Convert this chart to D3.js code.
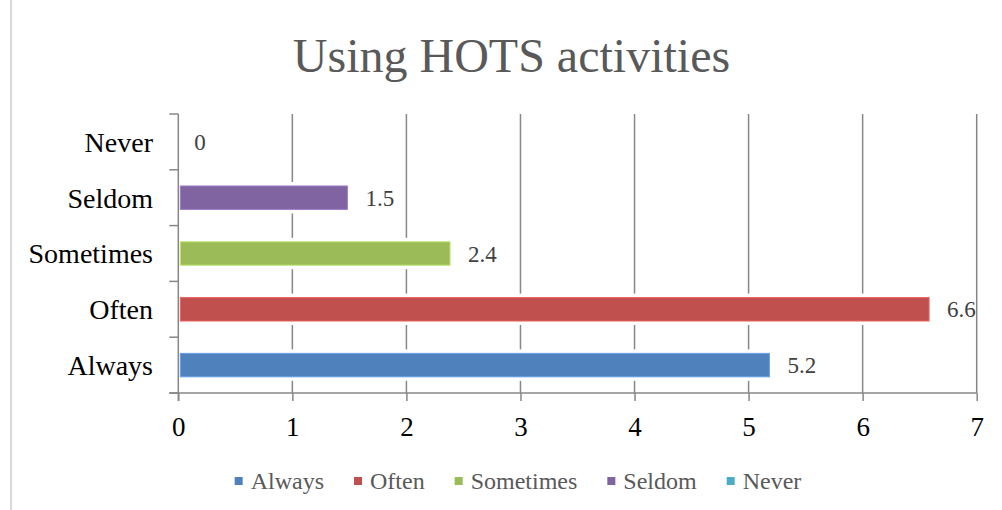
<!DOCTYPE html>
<html>
<head>
<meta charset="utf-8">
<script src="https://cdn.jsdelivr.net/npm/d3@7/dist/d3.min.js"></script>
<style>
  html, body { margin: 0; padding: 0; background: #fff; }
  svg { display: block; font-family: "Liberation Serif", "DejaVu Serif", serif; }
</style>
</head>
<body>
<svg id="chart" width="1002" height="510"></svg>
<script>
const title = "Using HOTS activities";
const categories = ["Always", "Often", "Sometimes", "Seldom", "Never"];
const values = [5.2, 6.6, 2.4, 1.5, 0];
const colors = ["#4F81BD", "#C0504D", "#9BBB59", "#8064A2", "#4BACC6"];
const xTicks = [0, 1, 2, 3, 4, 5, 6, 7];

const svg = d3.select("#chart");
const W = 1002, H = 510;
const plot = { left: 178.3, right: 976.7, top: 114, bottom: 393 };

svg.append("rect").attr("width", W).attr("height", H).attr("fill", "#fff");
// chart area border (left edge visible)
svg.append("line").attr("x1", 11).attr("x2", 11).attr("y1", 0).attr("y2", H)
  .attr("stroke", "#d9d9d9").attr("stroke-width", 2);

const x = d3.scaleLinear().domain([0, 7]).range([plot.left, plot.right]);
const y = d3.scaleBand().domain(categories.slice().reverse())
  .range([plot.top, plot.bottom]).paddingInner(0.58).paddingOuter(0.29);

// title
svg.append("text").attr("x", 511.5).attr("y", 72).attr("text-anchor", "middle")
  .attr("font-size", 48).attr("fill", "#595959").text(title);

const gridColor = "#878787";
// vertical gridlines
svg.append("g").selectAll("line").data(xTicks.filter(d => d > 0)).join("line")
  .attr("x1", d => x(d)).attr("x2", d => x(d))
  .attr("y1", plot.top).attr("y2", plot.bottom)
  .attr("stroke", gridColor).attr("stroke-width", 1.5);

// x axis (bottom)
const xAxis = d3.axisBottom(x).tickValues(xTicks).tickSize(8).tickPadding(8).tickFormat(d3.format("d"));
const gx = svg.append("g").attr("transform", `translate(0,${plot.bottom})`).call(xAxis);
gx.select(".domain").attr("stroke", gridColor).attr("stroke-width", 1.5).attr("d", `M${plot.left - 9},0H${plot.right}`);
gx.selectAll(".tick line").attr("stroke", gridColor).attr("stroke-width", 1.5);
gx.selectAll(".tick text").attr("font-size", 27).attr("fill", "#000")
  .attr("font-family", "Liberation Serif, serif").attr("dy", null).attr("y", 43);

// y axis (left) with ticks at band boundaries
const boundaries = categories.slice().reverse().map(c => y(c) - y.step() * y.paddingInner() / 2);
boundaries.push(plot.bottom);
const gy = svg.append("g");
gy.append("line").attr("x1", plot.left).attr("x2", plot.left)
  .attr("y1", plot.top).attr("y2", plot.bottom + 8)
  .attr("stroke", gridColor).attr("stroke-width", 1.5);
gy.selectAll("line.t").data(boundaries).join("line").attr("class", "t")
  .attr("x1", plot.left - 9).attr("x2", plot.left)
  .attr("y1", d => d).attr("y2", d => d)
  .attr("stroke", gridColor).attr("stroke-width", 1.5);
gy.selectAll("text").data(categories).join("text")
  .attr("x", 153).attr("y", d => y(d) + y.bandwidth() / 2).attr("dy", "0.35em")
  .attr("text-anchor", "end").attr("font-size", 28).attr("fill", "#000").text(d => d);

// bars with white halo that interrupts the gridlines
const barData = categories.map((c, i) => ({ c, v: values[i], color: colors[i] }));
svg.append("g").selectAll("rect").data(barData.filter(d => d.v > 0)).join("rect")
  .attr("x", x(0) + 2).attr("y", d => y(d.c) - 4)
  .attr("width", d => Math.max(0, x(d.v) - x(0) - 2)).attr("height", y.bandwidth() + 8)
  .attr("fill", "#fff");
svg.append("g").selectAll("rect").data(barData.filter(d => d.v > 0)).join("rect")
  .attr("x", x(0) + 2).attr("y", d => y(d.c))
  .attr("width", d => Math.max(0, x(d.v) - x(0) - 4)).attr("height", y.bandwidth())
  .attr("fill", d => d.color)
  .attr("stroke", d => d3.color(d.color).brighter(0.6)).attr("stroke-width", 1);

// value labels
svg.append("g").selectAll("text").data(barData).join("text")
  .attr("x", d => x(d.v) + 16).attr("y", d => y(d.c) + y.bandwidth() / 2).attr("dy", "0.35em")
  .attr("font-size", 23).attr("fill", "#404040").text(d => d3.format(".1~f")(d.v));

// legend
const lg = svg.append("g");
const items = lg.selectAll("g").data(barData).join("g");
items.append("rect").attr("width", 8).attr("height", 8).attr("y", -4).attr("fill", d => d.color);
items.append("text").attr("x", 16).attr("dy", "0.35em").attr("font-size", 24)
  .attr("fill", "#595959").text(d => d.c);
let cx = 0;
const gap = 30;
items.each(function () {
  const g = d3.select(this);
  const w = 16 + g.select("text").node().getComputedTextLength();
  g.attr("transform", `translate(${cx},0)`);
  cx += w + gap;
});
const totalW = cx - gap;
lg.attr("transform", `translate(${518 - totalW / 2},481)`);
</script>
</body>
</html>
